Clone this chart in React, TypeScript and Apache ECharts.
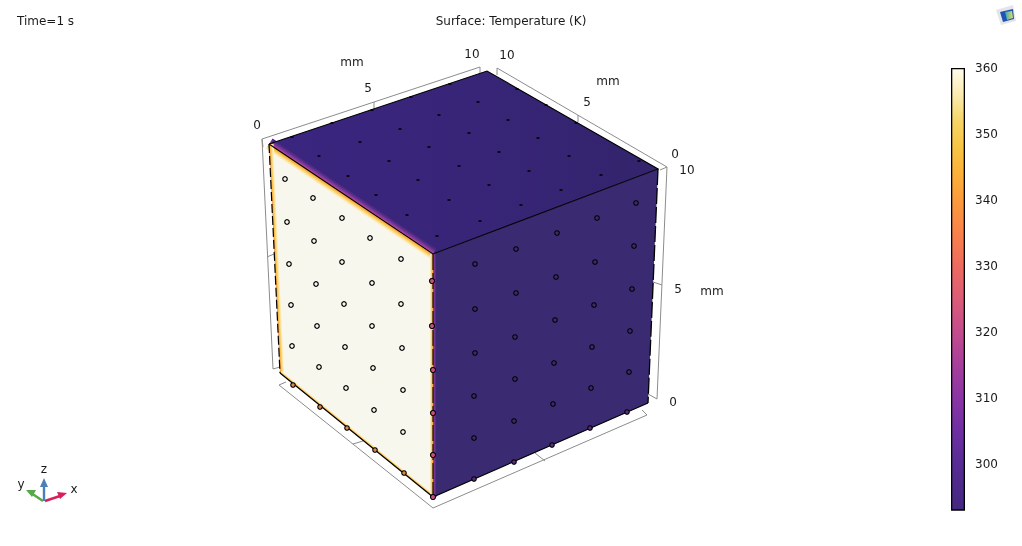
import React, { useEffect, useRef } from "react";
import * as echarts from "echarts";

const WIDTH = 1022;
const HEIGHT = 546;
type P = [number, number];

// Colour scale
const colorValues = [360, 356, 352, 348, 344, 340, 335, 330, 325, 320, 315, 310, 305, 300, 293.1];
const colorStops = ["#fffcec", "#fbeaae", "#f6d565", "#f8c443", "#fbb03a", "#fb9a3c", "#f9824a", "#ee6a60", "#db5c78", "#c24c8e", "#a63e9c", "#8a35a5", "#6e2fa2", "#572c94", "#432880"];
const colorTicks = [300, 310, 320, 330, 340, 350, 360];

// Cube corners, in picture coordinates
const topFace: P[] = [[269, 144], [487, 71], [658, 169], [433, 254]];
const leftFace: P[] = [[269, 144], [433, 254], [433, 497], [280, 373]];
const rightFace: P[] = [[433, 254], [658, 169], [648, 403], [433, 497]];

// Mesh nodes seen on each face
const topDots: P[] = [[292, 137], [332, 123], [372, 110], [411, 97], [450, 84], [517, 89], [478, 102], [546, 105], [439, 115], [508, 120], [576, 123], [400, 129], [469, 133], [538, 138], [360, 142], [429, 147], [499, 152], [569, 156], [319, 156], [389, 161], [639, 161], [459, 166], [529, 171], [601, 175], [348, 176], [418, 180], [489, 185], [561, 190], [376, 195], [449, 200], [521, 205], [407, 215], [480, 221], [437, 236]];
const leftDots: P[] = [[285, 179], [313, 198], [287, 222], [342, 218], [314, 241], [370, 238], [289, 264], [342, 262], [401, 259], [316, 284], [372, 283], [291, 305], [344, 304], [401, 304], [317, 326], [372, 326], [292, 346], [345, 347], [402, 348], [319, 367], [373, 368], [346, 388], [403, 390], [374, 410], [403, 432]];
const rightDots: P[] = [[475, 264], [516, 249], [557, 233], [597, 218], [636, 203], [556, 277], [595, 262], [634, 246], [632, 289], [516, 293], [475, 309], [594, 305], [555, 320], [630, 331], [515, 337], [475, 353], [592, 347], [554, 363], [629, 372], [515, 379], [591, 388], [474, 396], [553, 404], [514, 421], [474, 438]];
const bottomLeftDots: P[] = [[293, 385], [320, 407], [347, 428], [375, 450], [404, 473]];
const bottomRightDots: P[] = [[474, 479], [514, 462], [552, 445], [590, 428], [627, 412]];
const frontDots: P[] = [[432, 281], [432, 326], [433, 370], [433, 413], [433, 455], [433, 497]];

// Axis box, in grey
const boxLines: P[][] = [
  [[263, 147], [262, 139], [480, 67], [480, 74]],
  [[374, 102], [374, 109]],
  [[262, 139], [273, 369], [280, 367]],
  [[267, 257], [274, 254]],
  [[286, 382], [279, 385], [433, 508], [647, 415], [642, 410]],
  [[353, 444], [363, 441]],
  [[535, 453], [545, 461]],
  [[497, 75], [497, 68], [667, 167], [657, 399], [648, 394]],
  [[578, 115], [578, 122]],
  [[653, 282], [662, 285]],
  [[667, 167], [660, 170]],
];

// Texts
const sceneTexts: [string, number, number][] = [
  ["mm", 352, 62], ["5", 368, 88], ["0", 257, 125], ["10", 472, 54], ["10", 507, 55],
  ["5", 587, 102], ["mm", 608, 81], ["0", 675, 154], ["10", 687, 170], ["5", 678, 289],
  ["mm", 712, 291], ["0", 673, 402],
];
const triadTexts: [string, number, number][] = [["z", 44, 469], ["y", 21, 484], ["x", 74, 489]];

// Triad
const triadZ: P[] = [[44, 501], [44, 484]];
const triadY: P[] = [[43, 501], [31, 493]];
const triadX: P[] = [[45, 501], [60, 496]];
const triadZHead: P[] = [[40, 487], [44, 478], [48, 487]];
const triadYHead: P[] = [[26, 490], [36, 490], [32, 497]];
const triadXHead: P[] = [[67, 493], [57, 492], [60, 499]];

// Badge at the upper right
const badgeSheet: P[] = [[996, 10], [1013, 5], [1016, 21], [1001, 25]];
const badgeScreen: P[] = [[1000, 12], [1013, 9], [1014, 19], [1003, 22]];
const badgeGlow: P[] = [[1005, 12], [1012, 11], [1013, 18], [1007, 20]];

const sceneAxes = { xAxisIndex: 0, yAxisIndex: 0 };
let zCounter = 1;

function shape(build: (api: any) => any) {
  return {
    type: "custom",
    ...sceneAxes,
    silent: true,
    clip: false,
    z: zCounter++,
    data: [[0, 0]],
    renderItem: (_: any, api: any) => build(api),
  };
}

function poly(points: P[], fill: any) {
  return shape((api) => ({
    type: "polygon",
    shape: { points: points.map((p) => api.coord(p)) },
    style: { fill, stroke: null },
  }));
}

function line(points: P[], stroke: string, lineWidth: number, lineDash?: number[]) {
  return shape((api) => ({
    type: "polyline",
    shape: { points: points.map((p) => api.coord(p)) },
    style: { fill: null, stroke, lineWidth, lineDash },
  }));
}

// A soft colour fringe along a cube edge: "colors" run from the edge outwards,
// and the gradient runs square to the edge so that it keeps its width all along.
function fringe(a: P, b: P, dx: number, dy: number, colors: string[]) {
  return shape((api) => {
    const o = api.coord(a);
    const q = api.coord(b);
    const stops = colors.map((color, i) => ({ offset: i / (colors.length - 1), color }));
    const ex = q[0] - o[0];
    const ey = q[1] - o[1];
    const along = (dx * ex + dy * ey) / (ex * ex + ey * ey);
    const nx = dx - along * ex;
    const ny = dy - along * ey;
    return {
      type: "polygon",
      shape: { points: [o, q, [q[0] + dx, q[1] + dy], [o[0] + dx, o[1] + dy]] },
      style: { fill: new echarts.graphic.LinearGradient(o[0], o[1], o[0] + nx, o[1] + ny, stops, true), stroke: null },
    };
  });
}

function dots(points: P[], symbol: string, symbolSize: any, color: string, borderWidth: number, borderColor = "#000") {
  return {
    type: "scatter",
    ...sceneAxes,
    silent: true,
    clip: false,
    z: zCounter++,
    symbol,
    symbolSize,
    data: points,
    itemStyle: { color, borderColor, borderWidth, opacity: 1 },
  };
}

function texts(items: [string, number, number][], fontSize: number) {
  return items.map(([text, x, y]) =>
    shape((api) => {
      const c = api.coord([x, y]);
      return {
        type: "text",
        x: c[0],
        y: c[1],
        style: { text, fill: "#1a1a1a", font: `${fontSize}px "DejaVu Sans"`, align: "center", verticalAlign: "middle" },
      };
    })
  );
}

function buildOption() {
  zCounter = 1;
  const span = colorValues[0] - colorValues[colorValues.length - 1];
  const barGradient = new echarts.graphic.LinearGradient(
    0, 0, 0, 1,
    colorValues.map((v, i) => ({ offset: (colorValues[0] - v) / span, color: colorStops[i] }))
  );
  const creamFade = ["#f7923a", "#fbc14c", "#fde49a", "#f8f7ee"];
  const purpleFade = ["#c05a90", "#8a3a9e", "#5a2e8c", "#3a2579"];
  const frontFade = ["#a8458f", "#6c3290", "#3a2a72"];

  const series: any[] = [
    ...boxLines.map((pts) => line(pts, "#8c8c8c", 1)),
    poly(topFace, new echarts.graphic.LinearGradient(0, 0, 1, 0, [
      { offset: 0, color: "#3b2580" },
      { offset: 0.45, color: "#382579" },
      { offset: 1, color: "#33246c" },
    ])),
    poly(rightFace, "#3a2a72"),
    poly(leftFace, "#f8f7ee"),
    fringe(topFace[0], topFace[3], 3.6, -5.4, purpleFade),
    fringe(leftFace[0], leftFace[1], -3.4, 5, creamFade),
    fringe(leftFace[0], leftFace[3], 4.5, 0, creamFade),
    fringe(leftFace[3], leftFace[2], 1.6, -2.1, creamFade),
    fringe(leftFace[1], leftFace[2], -3, 0, ["#f8a23c", "#fbd05e", "#f8f7ee"]),
    fringe(rightFace[0], rightFace[3], 3.5, 0, frontFade),
    line([topFace[0], topFace[3], topFace[2], topFace[1], topFace[0]], "#000", 1.1),
    line([leftFace[0], leftFace[3]], "#000", 1.2, [9, 3]),
    line([leftFace[3], leftFace[2], rightFace[2]], "#000", 1.2),
    line([leftFace[1], leftFace[2]], "#000", 1.1, [16, 3]),
    line([rightFace[1], rightFace[2]], "#000", 1.3, [16, 3]),
    dots(topDots, "rect", [3, 1.6], "#000", 0),
    dots(leftDots, "circle", 4.5, "#f8f7ee", 1.2),
    dots(rightDots, "circle", 4.5, "#3a2a72", 1.1),
    dots(bottomLeftDots, "circle", 4.5, "#d98a4a", 1.1),
    dots(bottomRightDots, "circle", 4.5, "#5a2c80", 1.1),
    dots(frontDots, "circle", 5, "#c8507e", 1.1),
    ...texts(sceneTexts, 12),
    ...texts(triadTexts, 12),
    line(triadZ, "#4a80b8", 2.4),
    line(triadY, "#56a84a", 2.4),
    line(triadX, "#d81e5b", 2.4),
    poly(triadZHead, "#4a80b8"),
    poly(triadYHead, "#56a84a"),
    poly(triadXHead, "#d81e5b"),
    poly(badgeSheet, "#e4e4ea"),
    poly(badgeScreen, "#1c56ae"),
    poly(badgeGlow, new echarts.graphic.LinearGradient(0, 0, 1, 0, [
      { offset: 0, color: "#38a0d0" },
      { offset: 1, color: "#e8e050" },
    ])),
    {
      type: "bar",
      xAxisIndex: 1,
      yAxisIndex: 1,
      silent: true,
      barWidth: "100%",
      data: [colorValues[0]],
      itemStyle: { color: barGradient, borderColor: "#000", borderWidth: 1.3 },
      z: 2,
    },
  ];

  const barAxis = {
    gridIndex: 1,
    type: "value",
    min: colorValues[colorValues.length - 1],
    max: colorValues[0],
    splitLine: { show: false },
    axisLine: { show: false },
  };

  const titleStyle = { fontSize: 12, fontWeight: "normal", color: "#1a1a1a", fontFamily: "DejaVu Sans" };

  return {
    animation: false,
    backgroundColor: "#ffffff",
    textStyle: { fontFamily: "DejaVu Sans" },
    title: [
      { text: "Surface: Temperature (K)", left: 506, top: 10, textAlign: "center", textStyle: titleStyle },
      { text: "Time=1 s", left: 12, top: 10, textStyle: titleStyle },
    ],
    grid: [
      { left: 0, top: 0, width: WIDTH, height: HEIGHT },
      { left: 951, top: 68, width: 14, height: 442 },
    ],
    xAxis: [
      { gridIndex: 0, type: "value", min: 0, max: WIDTH, show: false },
      { gridIndex: 1, type: "category", data: [""], show: false },
    ],
    yAxis: [
      { gridIndex: 0, type: "value", min: 0, max: HEIGHT, inverse: true, show: false },
      {
        ...barAxis,
        position: "left",
        axisLabel: { show: false },
        axisTick: { show: true, inside: true, length: 3, customValues: colorTicks.slice(0, -1), lineStyle: { color: "#000" } },
      },
      {
        ...barAxis,
        position: "right",
        axisLabel: { show: true, customValues: colorTicks, margin: 10, fontSize: 12, color: "#1a1a1a", fontFamily: "DejaVu Sans" },
        axisTick: { show: true, inside: true, length: 3, customValues: colorTicks.slice(0, -1), lineStyle: { color: "#000" } },
      },
    ],
    series,
  };
}

export default function App() {
  const ref = useRef<HTMLDivElement>(null);
  useEffect(() => {
    document.body.style.margin = "0";
    const chart = echarts.init(ref.current!, undefined, { renderer: "svg" });
    chart.setOption(buildOption() as any);
    return () => chart.dispose();
  }, []);
  return <div ref={ref} style={{ width: WIDTH, height: HEIGHT, willChange: "transform" }} />;
}
